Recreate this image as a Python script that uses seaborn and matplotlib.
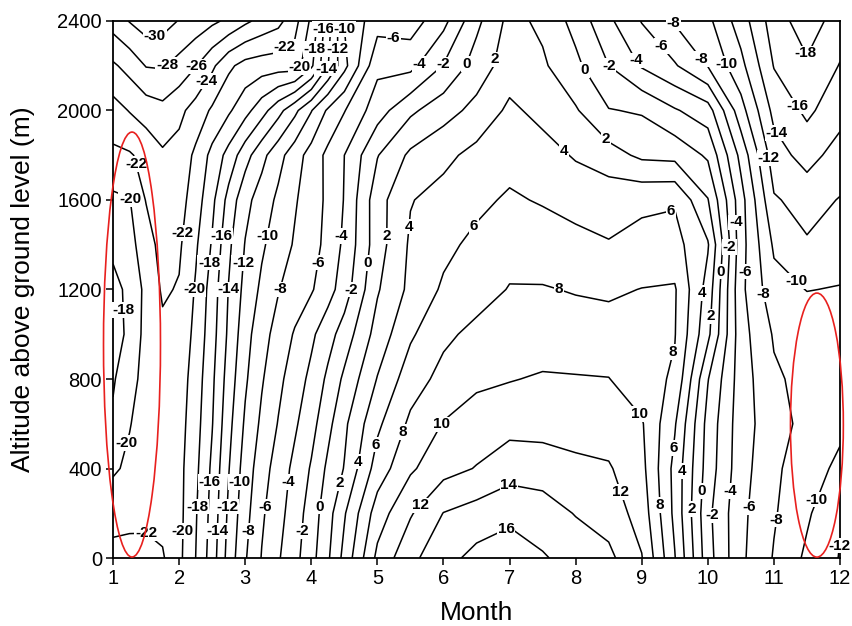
import numpy as np
import matplotlib
matplotlib.use("Agg")
import matplotlib.pyplot as plt
from matplotlib.patches import Ellipse
from matplotlib import font_manager
import seaborn as sns

# Grid of the temperature section (month x altitude above ground level)
months = [1, 1.25, 1.5, 1.75, 2, 2.25, 2.5, 2.75, 3, 3.25, 3.5, 3.75, 4, 4.25, 4.5,
          5, 5.5, 6, 6.5, 7, 7.5, 8, 8.5, 9, 9.5, 10, 10.5, 11, 11.5, 12]
altitudes = [0, 200, 400, 600, 800, 1000, 1200, 1400, 1600, 1800, 2000, 2200, 2400]

# Air temperature (deg C), one row per altitude level
temp_0 = [-22.6, -22.6, -22.5, -22.2, -20.5, -18.0, -15.0, -11.2, -8.2, -5.9, -4.2, -2.6, -0.7, 1.7, 4.6,
          10.5, 13.5, 15.3, 16.6, 17.3, 16.2, 15.2, 14.5, 12.1, 6.1, -1.2, -5.6, -8.15, -10.4, -12.1]
temp_200 = [-21.3, -21.5, -21.6, -21.4, -20.6, -18.2, -15.3, -11.6, -8.7, -6.3, -4.7, -3.0, -1.1, 1.2, 3.8,
            9.0, 11.8, 14.05, 14.8, 15.4, 14.9, 13.9, 13.1, 11.2, 5.5, -1.5, -5.5, -7.8, -9.7, -11.85]
temp_400 = [-19.7, -20.4, -21.0, -21.1, -20.6, -18.5, -15.6, -12.1, -9.1, -6.9, -5.1, -3.5, -1.8, 0.4, 2.1,
            6.9, 9.7, 11.3, 12.1, 13.2, 13.1, 12.6, 12.2, 10.6, 5.4, -0.9, -5.2, -7.6, -9.2, -10.4]
temp_600 = [-18.3, -19.9, -20.9, -21.1, -20.8, -18.8, -16.1, -12.6, -9.7, -7.6, -5.9, -4.3, -2.7, -0.6, 1.6,
            5.6, 8.4, 10.1, 10.9, 11.3, 11.2, 10.9, 11.0, 10.2, 6.2, -0.7, -5.1, -7.2, -8.6, -9.6]
temp_800 = [-17.8, -19.2, -20.8, -21.2, -21.0, -19.1, -16.4, -13.1, -10.3, -8.2, -6.5, -5.0, -3.5, -1.6, 0.4,
            4.1, 7.1, 8.6, 9.6, 9.9, 10.2, 10.15, 10.05, 8.9, 7.7, 0.1, -5.0, -7.7, -8.6, -9.5]
temp_1000 = [-17.6, -18.2, -20.8, -21.6, -21.3, -19.5, -16.8, -13.6, -10.8, -8.7, -7.3, -5.8, -4.4, -2.8, -1.1,
             2.8, 5.7, 7.6, 8.5, 9.0, 9.0, 8.7, 8.8, 8.8, 8.1, 2.5, -5.2, -8.2, -8.9, -9.3]
temp_1200 = [-17.6, -18.3, -20.6, -22.25, -21.85, -19.8, -17.1, -13.9, -11.4, -9.6, -8.1, -7.1, -6.2, -4.8, -3.0,
             1.8, 4.5, 6.3, 7.2, 8.1, 8.1, 7.9, 7.7, 8.05, 8.2, 3.2, -5.5, -9.3, -10.05, -9.9]
temp_1400 = [-18.3, -19.4, -21.0, -22.8, -22.3, -20.3, -17.8, -14.4, -11.9, -10.3, -9.0, -7.8, -6.8, -5.4, -3.6,
             1.1, 4.3, 5.5, 6.5, 7.3, 7.2, 6.6, 6.1, 6.6, 6.7, 4.2, -5.2, -10.3, -11.8, -10.9]
temp_1600 = [-19.6, -19.9, -22.1, -23.2, -22.8, -21.0, -18.5, -15.3, -12.6, -11.1, -9.6, -8.2, -7.0, -5.6, -3.9,
             1.2, 3.9, 4.7, 5.5, 6.3, 5.8, 5.3, 5.3, 5.6, 5.8, 2.1, -5.2, -11.8, -12.7, -11.9]
temp_1800 = [-21.6, -21.8, -22.6, -23.7, -23.3, -21.6, -19.4, -17.3, -14.8, -12.6, -10.7, -8.9, -7.2, -5.5, -4.0,
             -0.1, 2.4, 3.5, 4.6, 5.2, 4.8, 3.8, 2.8, 1.6, 1.4, -0.3, -6.6, -13.1, -14.8, -13.1]
temp_2000 = [-23.2, -24.1, -24.9, -25.4, -24.5, -23.2, -21.7, -20.3, -18.7, -16.8, -14.7, -12.5, -10.1, -7.7, -6.1,
             -2.9, -0.4, 1.2, 2.6, 4.4, 3.4, 2.2, 0.1, -0.2, -1.8, -3.1, -9.2, -14.6, -16.4, -14.8]
temp_2200 = [-25.7, -26.7, -28.1, -28.2, -27.3, -26.1, -24.4, -22.4, -21.3, -21.0, -20.9, -21.0, -18.4, -14.1, -10.6,
             -4.5, -4.6, -1.9, 0.9, 3.0, 2.3, 0.5, -2.0, -4.2, -5.8, -8.1, -11.4, -16.1, -17.7, -15.9]
temp_2400 = [-28.9, -30.1, -31.0, -30.8, -29.9, -29.2, -28.4, -27.6, -26.4, -25.4, -24.6, -22.7, -19.6, -15.0, -9.9,
             -6.8, -7.0, -4.6, -0.5, 2.6, 1.6, -0.7, -3.6, -6.1, -8.2, -9.5, -13.0, -17.0, -19.1, -17.0]

temperature = np.array([temp_0, temp_200, temp_400, temp_600, temp_800, temp_1000, temp_1200,
                        temp_1400, temp_1600, temp_1800, temp_2000, temp_2200, temp_2400])
levels = np.arange(-30, 18, 2)

# Where the isotherm labels sit (month, altitude); dense bands are staggered
label_spots = [
    # cold pool and winter column
    (1.64, 2310), (1.82, 2203), (2.3, 2190), (2.42, 2130), (1.41, 1765), (1.31, 1607),
    (1.17, 1108), (1.21, 514), (1.51, 116), (2.09, 1452),
    # upper band
    (3.6, 2283), (3.86, 2180), (4.04, 2275), (4.19, 2365), (4.26, 2180), (4.4, 2275), (4.5, 2365),
    (5.24, 2330), (5.65, 2205), (6.0, 2205), (6.32, 2210), (6.76, 2230),
    # middle of the spring band
    (2.23, 1200), (2.45, 1320), (2.63, 1440), (2.74, 1200), (2.95, 1320), (3.3, 1440), (3.53, 1200),
    (4.1, 1320), (4.44, 1440), (4.6, 1200), (4.84, 1320), (5.12, 1440),
    # bottom of the spring band
    (2.06, 120), (2.27, 230), (2.46, 340), (2.57, 120), (2.72, 230), (2.9, 340), (3.05, 120),
    (3.3, 230), (3.62, 340), (3.88, 120), (4.13, 230), (4.36, 340),
    # summer
    (4.72, 430), (4.92, 510), (5.3, 572), (5.95, 600), (5.6, 250), (7.0, 320), (6.95, 130),
    (7.76, 1215), (5.5, 1480), (6.43, 1490), (7.87, 1832), (8.44, 1870), (8.1, 2172),
    (8.5, 2200), (8.92, 2226), (9.3, 2290), (9.45, 2385), (9.98, 2250), (10.32, 2212),
    # autumn and early winter
    (11.44, 2250), (11.3, 2010), (11.02, 1895), (10.9, 1786),
    (9.45, 1540), (10.2, 1280), (10.31, 1390), (10.43, 1500), (10.57, 1280), (10.83, 1180),
    (9.95, 1183), (10.06, 1080), (11.35, 1240),
    (9.5, 920), (8.95, 640), (9.46, 492), (9.6, 389), (8.77, 304), (9.28, 237), (9.72, 219),
    (9.9, 300), (10.06, 190), (10.28, 300), (10.58, 230), (11.09, 170), (11.67, 259), (11.85, 60),
]

sns.set_theme(style="ticks")
available = {f.name for f in font_manager.fontManager.ttflist}
base_font = "Liberation Sans Narrow" if "Liberation Sans Narrow" in available else "Liberation Sans"
plt.rcParams["font.family"] = [base_font, "DejaVu Sans"]
plt.rcParams["axes.labelcolor"] = "black"
plt.rcParams["text.color"] = "black"

fig, ax = plt.subplots(figsize=(8.53, 6.26), dpi=100)
fig.subplots_adjust(left=0.1325, right=0.9848, bottom=0.1086, top=0.9665)

cs = ax.contour(months, altitudes, temperature, levels=levels, colors="black",
                linewidths=1.1, linestyles="solid")
texts = ax.clabel(cs, manual=label_spots, inline=False, fmt=lambda v: f"{v:.0f}", fontsize=11)
for t in texts:
    t.set_rotation(0)
    t.set_fontweight("bold")
    t.set_color("black")
    t.set_clip_on(False)
    t.set_bbox(dict(boxstyle="square,pad=0.05", facecolor="white", edgecolor="none"))

# Highlighted regions
for (cx, cy, w, h) in [(1.287, 954, 0.862, 1899), (11.65, 594, 0.80, 1180)]:
    ax.add_patch(Ellipse((cx, cy), w, h, fill=False, edgecolor="#e8201e", linewidth=1.2,
                         clip_on=False, zorder=6))

ax.set_xlim(1, 12)
ax.set_ylim(0, 2400)
ax.set_xticks(range(1, 13))
ax.set_yticks(range(0, 2401, 400))
ax.set_xlabel("Month", fontsize=19, labelpad=9)
ax.set_ylabel("Altitude above ground level (m)", fontsize=19, labelpad=16)
ax.tick_params(axis="both", direction="out", length=5, width=1.1, labelsize=14.5, pad=3,
               colors="black")
for side in ["left", "right", "top", "bottom"]:
    ax.spines[side].set_visible(True)
    ax.spines[side].set_color("black")
    ax.spines[side].set_linewidth(1.3)
ax.grid(False)

fig.savefig("out.png", dpi=100, facecolor="white")
